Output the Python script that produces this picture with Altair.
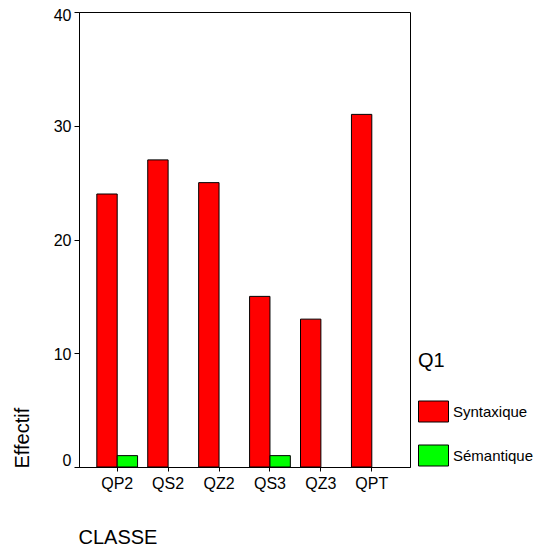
import altair as alt
import pandas as pd

classes = ["QP2", "QS2", "QZ2", "QS3", "QZ3", "QPT"]
series = ["Syntaxique", "Sémantique"]
syntaxique = [24, 27, 25, 15, 13, 31]
semantique = [1, 0, 0, 1, 0, 0]
colors = ["#FF0000", "#00FF00"]
y_ticks = [0, 10, 20, 30, 40]

rows = []
for c, s, m in zip(classes, syntaxique, semantique):
    rows.append({"CLASSE": c, "Q1": "Syntaxique", "Effectif": s})
    if m > 0:
        rows.append({"CLASSE": c, "Q1": "Sémantique", "Effectif": m})
df = pd.DataFrame(rows)

FONT = "Liberation Sans"

chart = alt.Chart(df).mark_bar(stroke="black", strokeWidth=1, opacity=1).encode(
    x=alt.X(
        "CLASSE:N",
        sort=classes,
        scale=alt.Scale(domain=classes, paddingInner=0.2, paddingOuter=0.35),
        axis=alt.Axis(
            title="CLASSE",
            labelAngle=0,
            labelFontSize=16,
            labelPadding=4,
            tickSize=4,
            titleFontSize=20,
            titleFontWeight="normal",
            titleX=-1,
            titleY=70,
            titleAlign="left",
            titleBaseline="middle",
        ),
    ),
    xOffset=alt.XOffset(
        "Q1:N",
        scale=alt.Scale(domain=series, paddingInner=0, paddingOuter=0),
    ),
    y=alt.Y(
        "Effectif:Q",
        scale=alt.Scale(domain=[0, 40], nice=False),
        axis=alt.Axis(
            values=y_ticks,
            grid=False,
            tickSize=5,
            labelPadding=3,
            labelFontSize=16,
            labelBaseline={"condition": {"test": "datum.value === 0", "value": "bottom"}, "value": "middle"},
            labelOffset={"condition": {"test": "datum.value === 40", "value": 3}, "value": 1},
            title="Effectif",
            titleFontSize=20,
            titleFontWeight="normal",
            titleAngle=270,
            titleX=-57,
            titleY=456,
            titleAlign="left",
            titleBaseline="middle",
        ),
    ),
    color=alt.Color(
        "Q1:N",
        scale=alt.Scale(domain=series, range=colors),
        legend=alt.Legend(
            title="Q1",
            orient="none",
            legendX=339,
            legendY=339,
            titleFontSize=20,
            titleFontWeight="normal",
            titleBaseline="top",
            titlePadding=25,
            symbolType="M-1,-0.7L1,-0.7L1,0.7L-1,0.7Z",
            symbolSize=900,
            symbolStrokeColor="black",
            symbolStrokeWidth=1,
            symbolOpacity=1,
            labelFontSize=15,
            labelOffset=4,
            rowPadding=16,
        ),
    ),
).properties(
    width=331,
    height=455,
    background="white",
    autosize=alt.AutoSizeParams(type="none"),
    padding={"left": 71, "top": 4, "right": 126, "bottom": 79},
).configure_view(
    stroke="black", strokeWidth=1
).configure_axis(
    domainColor="black",
    tickColor="black",
    labelColor="black",
    titleColor="black",
    labelFont=FONT,
    titleFont=FONT,
).configure_legend(
    labelFont=FONT,
    titleFont=FONT,
    labelColor="black",
    titleColor="black",
)

chart.save("out.html", embed_options={"renderer": "svg", "actions": False})
